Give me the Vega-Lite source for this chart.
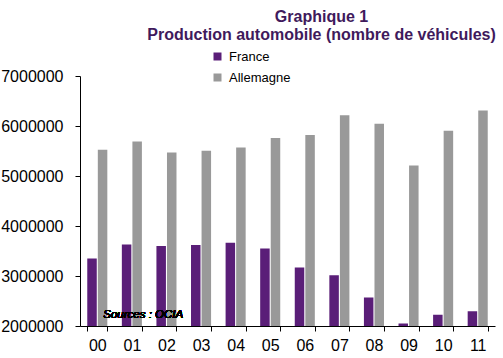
{
  "$schema": "https://vega.github.io/schema/vega-lite/v6.json",
  "width": 415,
  "height": 250,
  "autosize": "none",
  "padding": {"left": 80, "top": 76, "right": 8, "bottom": 32},
  "background": "white",
  "config": {"view": {"stroke": null}, "font": "Liberation Sans"},
  "title": {
    "text": ["Graphique 1", "Production automobile (nombre de véhicules)"],
    "font": "Liberation Sans",
    "fontSize": 16,
    "fontWeight": "bold",
    "color": "#3F1A5C",
    "anchor": "middle",
    "dx": 34,
    "offset": 7,
    "lineHeight": 18
  },
  "data": {
    "values": [
      {"annee": "00", "pays": "France", "valeur": 3348000},
      {"annee": "01", "pays": "France", "valeur": 3628000},
      {"annee": "02", "pays": "France", "valeur": 3602000},
      {"annee": "03", "pays": "France", "valeur": 3620000},
      {"annee": "04", "pays": "France", "valeur": 3666000},
      {"annee": "05", "pays": "France", "valeur": 3549000},
      {"annee": "06", "pays": "France", "valeur": 3169000},
      {"annee": "07", "pays": "France", "valeur": 3016000},
      {"annee": "08", "pays": "France", "valeur": 2568000},
      {"annee": "09", "pays": "France", "valeur": 2048000},
      {"annee": "10", "pays": "France", "valeur": 2227000},
      {"annee": "11", "pays": "France", "valeur": 2294000},
      {"annee": "00", "pays": "Allemagne", "valeur": 5527000},
      {"annee": "01", "pays": "Allemagne", "valeur": 5692000},
      {"annee": "02", "pays": "Allemagne", "valeur": 5469000},
      {"annee": "03", "pays": "Allemagne", "valeur": 5507000},
      {"annee": "04", "pays": "Allemagne", "valeur": 5570000},
      {"annee": "05", "pays": "Allemagne", "valeur": 5758000},
      {"annee": "06", "pays": "Allemagne", "valeur": 5820000},
      {"annee": "07", "pays": "Allemagne", "valeur": 6213000},
      {"annee": "08", "pays": "Allemagne", "valeur": 6046000},
      {"annee": "09", "pays": "Allemagne", "valeur": 5210000},
      {"annee": "10", "pays": "Allemagne", "valeur": 5906000},
      {"annee": "11", "pays": "Allemagne", "valeur": 6311000}
    ]
  },
  "layer": [
    {
      "mark": {"type": "bar", "clip": true},
      "encoding": {
        "x": {
          "field": "annee",
          "type": "nominal",
          "scale": {"paddingInner": 0.42, "paddingOuter": 0.21},
          "axis": {
            "title": null,
            "labelAngle": 0,
            "labelFont": "Liberation Sans",
            "labelFontSize": 16,
            "labelColor": "black",
            "labelPadding": 6,
            "domainColor": "black",
            "tickColor": "black",
            "tickSize": 5,
            "tickBand": "extent"
          }
        },
        "xOffset": {
          "field": "pays",
          "type": "nominal",
          "sort": ["France", "Allemagne"],
          "scale": {"paddingInner": 0.1}
        },
        "y": {
          "field": "valeur",
          "type": "quantitative",
          "scale": {"domain": [2000000, 7000000], "nice": false, "zero": false},
          "axis": {
            "title": null,
            "values": [2000000, 3000000, 4000000, 5000000, 6000000, 7000000],
            "format": "d",
            "grid": false,
            "labelFont": "Liberation Sans",
            "labelFontSize": 16,
            "labelColor": "black",
            "labelPadding": 12,
            "domainColor": "black",
            "tickColor": "black",
            "tickSize": 5
          }
        },
        "color": {
          "field": "pays",
          "type": "nominal",
          "sort": ["France", "Allemagne"],
          "scale": {"domain": ["France", "Allemagne"], "range": ["#5A1E78", "#999999"]},
          "legend": {
            "title": null,
            "orient": "none",
            "legendX": 131,
            "legendY": -26,
            "symbolType": "square",
            "symbolSize": 64,
            "symbolStrokeWidth": 0,
            "labelFont": "Liberation Sans",
            "labelFontSize": 13,
            "labelColor": "black",
            "rowPadding": 7,
            "labelOffset": 5
          }
        }
      }
    },
    {
      "mark": {
        "type": "text",
        "text": "Sources : OCIA",
        "font": "Liberation Sans",
        "fontSize": 11.5,
        "fontStyle": "italic",
        "align": "left",
        "baseline": "alphabetic",
        "dx": 6,
        "color": "black"
      },
      "encoding": {
        "x": {"datum": "00", "type": "nominal"},
        "y": {"datum": 2160000, "type": "quantitative"}
      }
    }
  ]
}
